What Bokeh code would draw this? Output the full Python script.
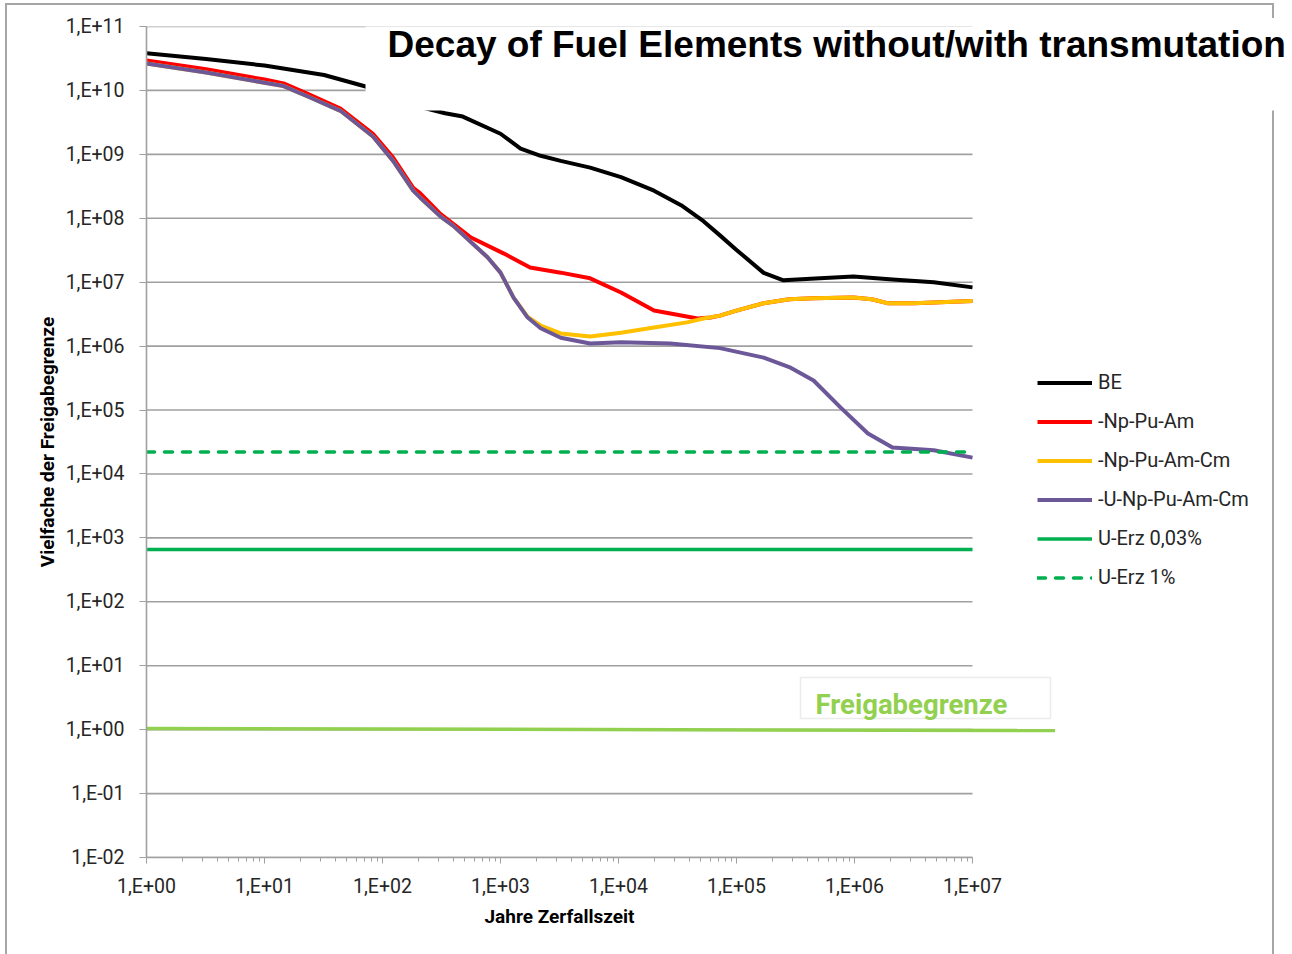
from bokeh.plotting import figure
from bokeh.models import (Range1d, FixedTicker, CustomJSTickFormatter, Legend,
                          LegendItem, BoxAnnotation, Label, Title)
from bokeh.embed import file_html
from bokeh.resources import INLINE

# ---------------- data ----------------
title_text = "Decay of Fuel Elements without/with transmutation"
x_label = "Jahre Zerfallszeit"
y_label = "Vielfache der Freigabegrenze"

x_ticks = [1e0, 1e1, 1e2, 1e3, 1e4, 1e5, 1e6, 1e7]
x_tick_labels = ["1,E+00", "1,E+01", "1,E+02", "1,E+03", "1,E+04", "1,E+05", "1,E+06", "1,E+07"]
y_ticks = [1e-2, 1e-1, 1e0, 1e1, 1e2, 1e3, 1e4, 1e5, 1e6, 1e7, 1e8, 1e9, 1e10, 1e11]
y_tick_labels = ["1,E-02", "1,E-01", "1,E+00", "1,E+01", "1,E+02", "1,E+03", "1,E+04",
                 "1,E+05", "1,E+06", "1,E+07", "1,E+08", "1,E+09", "1,E+10", "1,E+11"]

be_t = [1, 3.2, 10, 32, 72, 158, 339, 479, 1000, 1480, 2190, 3240, 5750, 10500, 20000,
        33900, 52500, 72400, 1e5, 1.7e5, 2.5e5, 5.1e5, 9.8e5, 2.1e6, 4.7e6, 1e7]
be_v = [3.8e10, 3.09e10, 2.45e10, 1.74e10, 1.15e10, 6.3e9, 4.4e9, 3.9e9, 2.1e9, 1.23e9,
        9.5e8, 7.9e8, 6.2e8, 4.4e8, 2.7e8, 1.6e8, 9.0e7, 5.4e7, 3.2e7, 1.4e7, 1.07e7,
        1.15e7, 1.23e7, 1.1e7, 1.0e7, 8.3e6]

red_t = [1, 3.2, 10, 14.5, 23, 44, 83, 123, 182, 209, 309, 562, 1070, 1780, 3240, 5750,
         10500, 20000, 46800, 60300, 72400, 1e5, 1.7e5, 2.8e5, 4.5e5, 9.8e5, 1.4e6, 1.9e6,
         3.2e6, 1e7]
red_v = [2.95e10, 2.14e10, 1.48e10, 1.29e10, 8.9e9, 5.2e9, 2.1e9, 8.9e8, 3.0e8, 2.45e8,
         1.17e8, 5.0e7, 2.8e7, 1.7e7, 1.41e7, 1.15e7, 6.9e6, 3.6e6, 2.7e6, 2.8e6, 3.0e6,
         3.6e6, 4.7e6, 5.4e6, 5.6e6, 5.75e6, 5.4e6, 4.7e6, 4.7e6, 5.1e6]

yel_t = [1, 3.2, 10, 14.5, 23, 44, 83, 123, 182, 209, 309, 398, 776, 1000, 1290, 1700,
         2190, 3240, 5750, 10500, 20000, 38000, 52500, 72400, 1e5, 1.7e5, 2.8e5, 4.5e5,
         9.8e5, 1.4e6, 1.9e6, 3.2e6, 1e7]
yel_v = [2.63e10, 1.91e10, 1.32e10, 1.17e10, 8.1e9, 4.8e9, 1.9e9, 7.9e8, 2.7e8, 2.1e8,
         1.07e8, 7.6e7, 2.45e7, 1.41e7, 5.75e6, 2.85e6, 2.1e6, 1.58e6, 1.41e6, 1.62e6,
         1.95e6, 2.35e6, 2.7e6, 3.0e6, 3.6e6, 4.7e6, 5.4e6, 5.6e6, 5.75e6, 5.4e6, 4.7e6,
         4.7e6, 5.1e6]

pur_t = [1, 3.2, 10, 14.5, 23, 44, 83, 123, 182, 209, 309, 398, 776, 1000, 1290, 1700,
         2190, 3240, 5750, 10500, 27500, 72400, 1.7e5, 2.8e5, 4.5e5, 7.6e5, 1.3e6, 2.1e6,
         4.7e6, 1e7]
pur_v = [2.63e10, 1.91e10, 1.32e10, 1.17e10, 8.1e9, 4.8e9, 1.9e9, 7.9e8, 2.7e8, 2.1e8,
         1.07e8, 7.6e7, 2.45e7, 1.41e7, 5.75e6, 2.8e6, 1.9e6, 1.35e6, 1.10e6, 1.15e6,
         1.10e6, 9.3e5, 6.6e5, 4.7e5, 2.9e5, 1.1e5, 4.3e4, 2.6e4, 2.35e4, 1.8e4]

erz003_t = [1, 1e7]
erz003_v = [660, 660]
erz1_t = [1, 1e7]
erz1_v = [2.2e4, 2.2e4]
frei_t = [1, 5e7]
frei_v = [1.04, 0.97]
frei_text = "Freigabegrenze"

series_names = ["BE", "-Np-Pu-Am", "-Np-Pu-Am-Cm", "-U-Np-Pu-Am-Cm", "U-Erz 0,03%", "U-Erz 1%"]

# ---------------- figure ----------------
W, H = 1292, 954
ML, MR, MT, MB = 146, 0, 26, 97
FRAME_H = H - MT - MB           # 831 px for 13 decades
PX_PER_DEC = 118.0
x_end = 10 ** ((W - ML - MR) / PX_PER_DEC)

p = figure(width=W, height=H, x_axis_type="log", y_axis_type="log",
           x_range=Range1d(1, x_end), y_range=Range1d(1e-2, 1e11),
           output_backend="svg", toolbar_location=None,
           min_border_left=ML, min_border_right=MR, min_border_top=MT, min_border_bottom=MB)
p.outline_line_color = None
p.grid.visible = False
p.border_fill_alpha = 0
p.background_fill_alpha = 0
BORDER = "#A6A6A6"
grad = f"linear-gradient({BORDER},{BORDER})"
p.styles = {
    "background-color": "white",
    "background-image": ", ".join([grad] * 4),
    "background-size": "2px 1000px, 1269px 2px, 2px 15px, 2px 900px",
    "background-position": "5px 3px, 5px 3px, 1272px 3px, 1272px 110px",
    "background-repeat": "no-repeat",
}

GRAY = "#A0A0A0"
TXT = "#262626"

# horizontal gridlines across the data span only
p.segment(x0=x_ticks[0], x1=x_ticks[-1], y0=y_ticks, y1=y_ticks,
          line_color=GRAY, line_width=1.6, level="underlay")

FMT_CODE = """
  for (let i = 0; i < tvals.length; i++) {
    if (Math.abs(Math.log10(tvals[i]) - Math.log10(tick)) < 1e-6) return labs[i];
  }
  return "";
"""

xa = p.xaxis[0]
xa.ticker = FixedTicker(ticks=x_ticks,
                        minor_ticks=[k * 10 ** d for d in range(7) for k in range(2, 10)])
xa.formatter = CustomJSTickFormatter(args=dict(labs=x_tick_labels, tvals=x_ticks), code=FMT_CODE)
xa.bounds = (x_ticks[0], x_ticks[-1])
xa.axis_line_color = GRAY
xa.axis_line_width = 1.6
xa.major_tick_line_color = GRAY
xa.minor_tick_line_color = GRAY
xa.major_tick_in = 0
xa.major_tick_out = 6
xa.minor_tick_in = 0
xa.minor_tick_out = 4
xa.major_label_standoff = 11
xa.major_label_text_font = "Roboto"
xa.major_label_text_font_size = "19.5px"
xa.major_label_text_color = TXT

ya = p.yaxis[0]
ya.ticker = FixedTicker(ticks=y_ticks, minor_ticks=[])
ya.formatter = CustomJSTickFormatter(args=dict(labs=y_tick_labels, tvals=y_ticks), code=FMT_CODE)
ya.bounds = (y_ticks[0], y_ticks[-1])
ya.axis_line_color = GRAY
ya.axis_line_width = 1.6
ya.major_tick_line_color = GRAY
ya.major_tick_in = 0
ya.major_tick_out = 7
ya.minor_tick_out = 0
ya.major_label_standoff = 15
ya.major_label_text_font = "Roboto"
ya.major_label_text_font_size = "19.5px"
ya.major_label_text_color = TXT
ya.axis_label = y_label
ya.axis_label_text_font = "Roboto"
ya.axis_label_text_font_style = "bold"
ya.axis_label_text_font_size = "19px"
ya.axis_label_text_color = "#000000"
ya.axis_label_standoff = 4

# x axis caption, centred under the 1..1e7 span (frame extends further right)
p.add_layout(Title(text=x_label, align="left", offset=338, standoff=4,
                   text_font="Roboto", text_font_style="bold", text_font_size="19px",
                   text_color="#000000"), "below")

# ---------------- series ----------------
r_be = p.line(be_t, be_v, line_color="#000000", line_width=4, line_join="round")
r_red = p.line(red_t, red_v, line_color="#FF0000", line_width=4, line_join="round")
r_yel = p.line(yel_t, yel_v, line_color="#FFC000", line_width=4, line_join="round")
r_pur = p.line(pur_t, pur_v, line_color="#6C5898", line_width=4, line_join="round")
r_e003 = p.line(erz003_t, erz003_v, line_color="#00B050", line_width=3.5)
r_e1 = p.line(erz1_t, erz1_v, line_color="#00B050", line_width=3.5,
              line_dash="8 10", line_cap="round")
p.line(frei_t, frei_v, line_color="#92D050", line_width=3.5)

legend = Legend(items=[LegendItem(label=n, renderers=[r]) for n, r in
                       zip(series_names, [r_be, r_red, r_yel, r_pur, r_e003, r_e1])],
                location=(891, 268), orientation="vertical")
legend.glyph_width = 55
legend.glyph_height = 23
legend.label_height = 23
legend.spacing = 15
legend.padding = 0
legend.margin = 0
legend.label_standoff = 6
legend.label_text_font = "Roboto"
legend.label_text_font_size = "20px"
legend.label_text_color = TXT
legend.background_fill_alpha = 0
legend.border_line_alpha = 0
p.add_layout(legend)

# ---------------- decorations (screen units relative to frame) ----------------
fx0 = ML
fy1 = MT + FRAME_H

def sx(px):
    return px - fx0

def sy(py):
    return fy1 - py

title_box = BoxAnnotation(left=sx(365), right=sx(1300), top=sy(10), bottom=sy(110),
                          left_units="screen", right_units="screen",
                          top_units="screen", bottom_units="screen",
                          fill_color="white", fill_alpha=1, line_alpha=0)
p.add_layout(title_box)

p.add_layout(Label(x=sx(387), y=sy(44), x_units="screen", y_units="screen",
                   text=title_text, text_font="Liberation Sans", text_font_style="bold",
                   text_font_size="37px", text_color="#000000", text_baseline="alphabetic"))

frei_box = BoxAnnotation(left=sx(800), right=sx(1050), top=sy(677), bottom=sy(718),
                         left_units="screen", right_units="screen",
                         top_units="screen", bottom_units="screen",
                         fill_color="white", fill_alpha=1, line_color="#BFBFBF",
                         line_width=1.5)
p.add_layout(frei_box)
p.add_layout(Label(x=sx(815), y=sy(704), x_units="screen", y_units="screen",
                   text=frei_text, text_font="Roboto", text_font_style="bold",
                   text_font_size="27.5px", text_color="#92D050", text_baseline="alphabetic"))

open("out.html", "w").write(file_html(p, INLINE))
